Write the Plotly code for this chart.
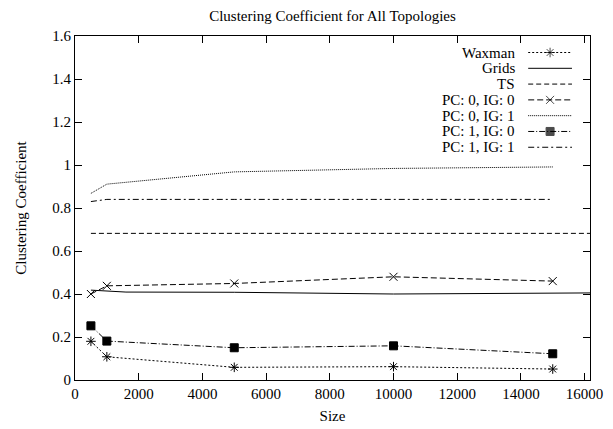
import plotly.graph_objects as go

# ---- data ----
sizes = [500, 1000, 5000, 10000, 15000]
grid_sizes = [500, 1600, 5000, 10000, 16170]

waxman = [0.18, 0.108, 0.059, 0.062, 0.051]
grids = [0.418, 0.409, 0.408, 0.400, 0.405]
ts = [0.682, 0.682, 0.682, 0.682, 0.682]
pc0_ig0 = [0.400, 0.438, 0.449, 0.480, 0.460]
pc0_ig1 = [0.868, 0.911, 0.968, 0.984, 0.991]
pc1_ig0 = [0.252, 0.181, 0.150, 0.159, 0.122]
pc1_ig1 = [0.830, 0.840, 0.840, 0.840, 0.840]

legend_names = ["Waxman", "Grids", "TS", "PC: 0, IG: 0", "PC: 0, IG: 1",
                "PC: 1, IG: 0", "PC: 1, IG: 1"]

x_ticks = [0, 2000, 4000, 6000, 8000, 10000, 12000, 14000, 16000]
y_ticks = [0, 0.2, 0.4, 0.6, 0.8, 1.0, 1.2, 1.4, 1.6]

X_RANGE = [0, 16170]
Y_RANGE = [0, 1.6]

FONT = "Liberation Serif"
FS = 15
BLACK = "#000000"

styles = [
    dict(dash="2px,2px", symbol="asterisk-open", size=8, width=1),
    dict(dash="solid", symbol=None, size=0, width=1),
    dict(dash="5px,3px", symbol=None, size=0, width=1),
    dict(dash="6px,3px", symbol="x-thin-open", size=8, width=1),
    dict(dash="1px,1px", symbol=None, size=0, width=1),
    dict(dash="6px,2px,1px,2px", symbol="square", size=8, width=1),
    dict(dash="6px,3px,2px,3px", symbol=None, size=0, width=1),
]

series = [
    (sizes, waxman),
    (grid_sizes, grids),
    (grid_sizes, ts),
    (sizes, pc0_ig0),
    (sizes, pc0_ig1),
    (sizes, pc1_ig0),
    (sizes, pc1_ig1),
]

fig = go.Figure()

for (xs, ys), st, name in zip(series, styles, legend_names):
    mode = "lines+markers" if st["symbol"] else "lines"
    marker = dict(symbol=st["symbol"], size=st["size"], color=BLACK,
                  line=dict(color=BLACK, width=1)) if st["symbol"] else None
    fig.add_trace(go.Scatter(
        x=xs, y=ys, mode=mode, name=name, showlegend=False,
        line=dict(color=BLACK, width=st["width"], dash=st["dash"]),
        marker=marker,
    ))

# ---- gnuplot-style key: text on the left, sample on the right ----
key_text_x = 0.858
key_x0, key_x1 = 0.88, 0.965
key_y0, key_step = 0.952, 0.0459


def fx(f):
    return X_RANGE[0] + f * (X_RANGE[1] - X_RANGE[0])


def fy(f):
    return Y_RANGE[0] + f * (Y_RANGE[1] - Y_RANGE[0])


annotations = []
for i, (name, st) in enumerate(zip(legend_names, styles)):
    ky = key_y0 - i * key_step
    annotations.append(dict(
        x=key_text_x, y=ky, xref="paper", yref="paper", text=name,
        showarrow=False, xanchor="right", yanchor="middle",
        font=dict(family=FONT, size=FS, color=BLACK)))
    sizes_k = [0, st["size"], 0] if st["symbol"] else None
    fig.add_trace(go.Scatter(
        x=[fx(key_x0), fx((key_x0 + key_x1) / 2), fx(key_x1)],
        y=[fy(ky)] * 3,
        showlegend=False, hoverinfo="skip",
        mode="lines+markers" if st["symbol"] else "lines",
        line=dict(color=BLACK, width=st["width"], dash=st["dash"]),
        marker=dict(symbol=st["symbol"], size=sizes_k, color=BLACK,
                    line=dict(color=BLACK, width=1)) if st["symbol"] else None,
    ))

fig.update_layout(
    template="simple_white",
    width=613, height=429,
    margin=dict(l=75, r=23, t=36, b=49, autoexpand=False),
    paper_bgcolor="white", plot_bgcolor="white",
    font=dict(family=FONT, size=FS, color=BLACK),
    hovermode=False,
    title=dict(text="Clustering Coefficient for All Topologies",
               x=0.5, xanchor="center", xref="paper",
               y=1 - 16 / 429, yanchor="middle",
               font=dict(family=FONT, size=FS, color=BLACK)),
    xaxis=dict(range=X_RANGE, tickmode="array", tickvals=x_ticks,
               tickformat="d", ticks="inside", ticklen=7, tickwidth=1,
               tickcolor=BLACK, mirror="ticks", showline=True,
               linecolor=BLACK, linewidth=1, showgrid=False, zeroline=False,
               tickfont=dict(family=FONT, size=FS, color=BLACK),
               title=dict(text="Size", standoff=9,
                          font=dict(family=FONT, size=FS, color=BLACK))),
    yaxis=dict(range=Y_RANGE, tickmode="array", tickvals=y_ticks,
               ticks="inside", ticklen=7, tickwidth=1,
               tickcolor=BLACK, mirror="ticks", showline=True,
               linecolor=BLACK, linewidth=1, showgrid=False, zeroline=False,
               tickfont=dict(family=FONT, size=FS, color=BLACK),
               title=dict(text="Clustering Coefficient", standoff=22,
                          font=dict(family=FONT, size=FS, color=BLACK))),
    annotations=annotations,
)

fig.write_html("out.html", config={"displayModeBar": False},
               post_script="document.body.style.margin='0';")
